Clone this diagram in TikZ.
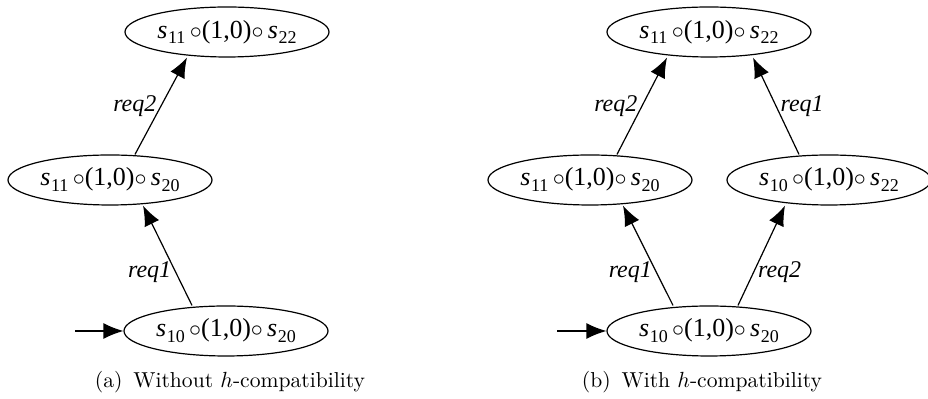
\documentclass[tikz,border=0pt]{standalone}
\usepackage{fontspec}
\newfontfamily\tms{Liberation Serif}
\usetikzlibrary{shapes.geometric,arrows.meta}
% state names: s_{ij} o (1,0) o s_{kl}
\newcommand{\stname}[1]{\textit{s}\kern0.3pt\raisebox{-0.5ex}{\fontsize{9}{10}\selectfont #1}}
\newcommand{\stlabel}[2]{\stname{#1}\,$\circ$(1,0)$\circ$\,\stname{#2}}
\begin{document}
\begin{tikzpicture}[x=0.5pt, y=-0.5pt, >={Latex[length=10pt,width=8pt]}, line width=0.6pt,
    state/.style={ellipse, draw, minimum width=102pt, minimum height=25pt, inner sep=0pt,
      font=\tms\fontsize{13}{15}\selectfont},
    lbl/.style={font=\tms\itshape\fontsize{12}{14}\selectfont, inner sep=2pt},
    subcap/.style={font=\fontsize{10.8}{13}\selectfont}]
  \useasboundingbox (0,0) rectangle (928,399);

  % (a) ohne h-Kompatibilitaet
  \node[state] (a0) at (226,331) {\stlabel{10}{20}};
  \node[state] (a1) at (110,180) {\stlabel{11}{20}};
  \node[state] (a2) at (227,32) {\stlabel{11}{22}};
  \coordinate (ain) at (75,331);
  \draw[->] (ain) -- (a0);
  \draw[->] ([xshift=-17pt]a0.north) -- node[lbl, pos=0.33, left] {req1} ([xshift=16.5pt]a1.south);
  \draw[->] ([xshift=12.5pt]a1.north) -- node[lbl, pos=0.5, left] {req2} ([xshift=-20pt]a2.south);
  \node[subcap] (capa) at (230,382) {(a)\enskip Without $h$-compatibility};

  % (b) mit h-Kompatibilitaet
  \node[state] (b0) at (709,331) {\stlabel{10}{20}};
  \node[state] (b1) at (590,180) {\stlabel{11}{20}};
  \node[state] (b2) at (829,180) {\stlabel{10}{22}};
  \node[state] (b3) at (709,32) {\stlabel{11}{22}};
  \coordinate (bin) at (557,331);
  \draw[->] (bin) -- (b0);
  \draw[->] ([xshift=-18pt]b0.north) -- node[lbl, pos=0.33, left] {req1} ([xshift=16.5pt]b1.south);
  \draw[->] ([xshift=14.5pt]b0.north) -- node[lbl, pos=0.33, right] {req2} ([xshift=-22pt]b2.south);
  \draw[->] ([xshift=13.5pt]b1.north) -- node[lbl, pos=0.5, left] {req2} ([xshift=-21pt]b3.south);
  \draw[->] ([xshift=-15pt]b2.north) -- node[lbl, pos=0.5, right] {req1} ([xshift=22pt]b3.south);
  \node[subcap] (capb) at (702,382) {(b)\enskip With $h$-compatibility};
\end{tikzpicture}
\end{document}
